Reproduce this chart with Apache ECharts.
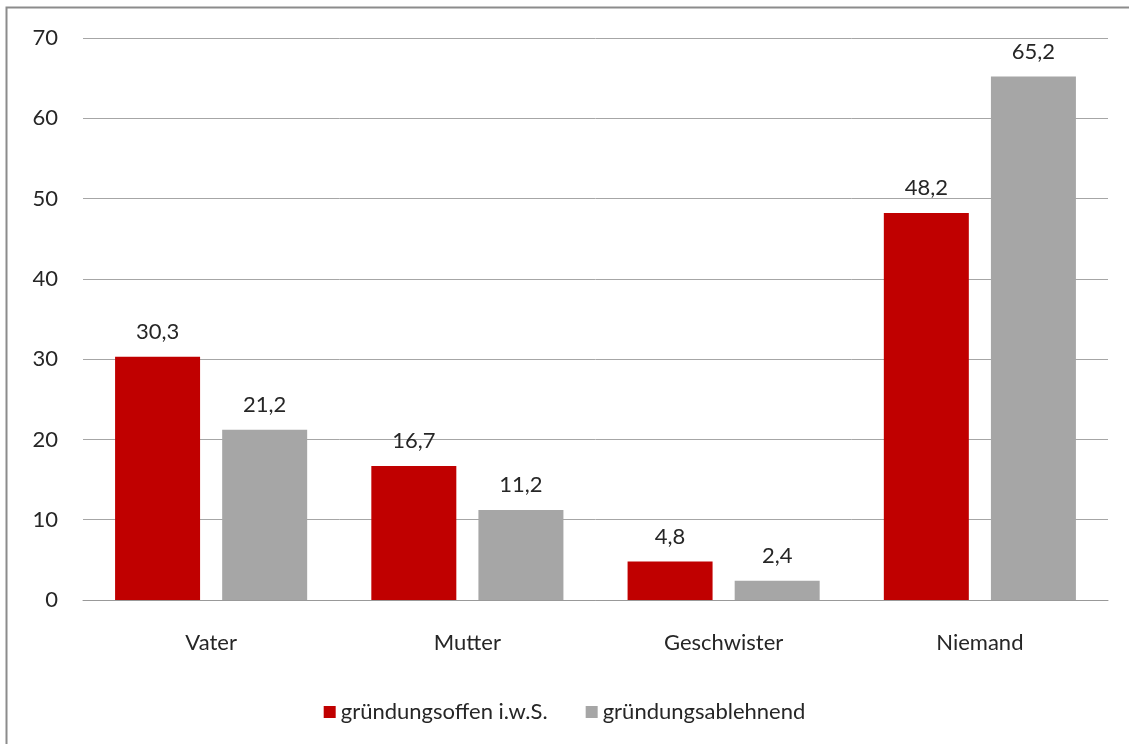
<!DOCTYPE html>
<html>
<head>
<meta charset="utf-8">
<script src="https://cdn.jsdelivr.net/npm/echarts@6/dist/echarts.min.js"></script>
<style>
  html, body { margin: 0; padding: 0; background: #fff; }
  #chart { width: 1129px; height: 744px; }
</style>
</head>
<body>
<div id="chart"></div>
<script>
// Categories and values (percent)
const categories = ['Vater', 'Mutter', 'Geschwister', 'Niemand'];
const offenValues = [30.3, 16.7, 4.8, 48.2];
const ablehnendValues = [21.2, 11.2, 2.4, 65.2];
const seriesNames = ['gründungsoffen i.w.S.', 'gründungsablehnend'];

const FONT = 'Lato, "Open Sans", sans-serif';
const FS = 22;
const TEXT = '#262626';
const fmt = v => String(v).replace('.', ',');

const chart = echarts.init(document.getElementById('chart'));

const labelStyle = {
  show: true,
  position: 'top',
  distance: 14,
  color: TEXT,
  fontFamily: FONT,
  fontSize: FS,
  formatter: p => fmt(p.value)
};

chart.setOption({
  animation: false,
  backgroundColor: '#fff',
  graphic: [{
    type: 'rect',
    shape: { x: 6.5, y: 7.5, width: 1140, height: 760 },
    style: { fill: 'none', stroke: '#8c8c8c', lineWidth: 2 },
    silent: true
  }],
  grid: { left: 83, right: 21, top: 38, bottom: 144, containLabel: false },
  legend: {
    top: 696,
    left: 'center',
    itemWidth: 12,
    itemHeight: 12,
    itemGap: 38,
    icon: 'rect',
    textStyle: { color: TEXT, fontFamily: FONT, fontSize: FS },
    data: seriesNames
  },
  xAxis: {
    type: 'category',
    data: categories,
    axisLine: { lineStyle: { color: '#999999', width: 1 } },
    axisTick: { show: false },
    axisLabel: { color: TEXT, fontFamily: FONT, fontSize: FS, margin: 32 }
  },
  yAxis: {
    type: 'value',
    min: 0,
    max: 70,
    interval: 10,
    axisLine: { show: false },
    axisTick: { show: false },
    splitLine: { lineStyle: { color: '#a6a6a6', width: 1 } },
    axisLabel: { color: TEXT, fontFamily: FONT, fontSize: FS, margin: 25 }
  },
  series: [
    {
      name: seriesNames[0],
      type: 'bar',
      data: offenValues,
      barWidth: 85,
      barGap: '26%',
      itemStyle: { color: '#c00000' },
      label: labelStyle
    },
    {
      name: seriesNames[1],
      type: 'bar',
      data: ablehnendValues,
      barWidth: 85,
      barGap: '26%',
      itemStyle: { color: '#a6a6a6' },
      label: labelStyle
    }
  ]
});
</script>
</body>
</html>
